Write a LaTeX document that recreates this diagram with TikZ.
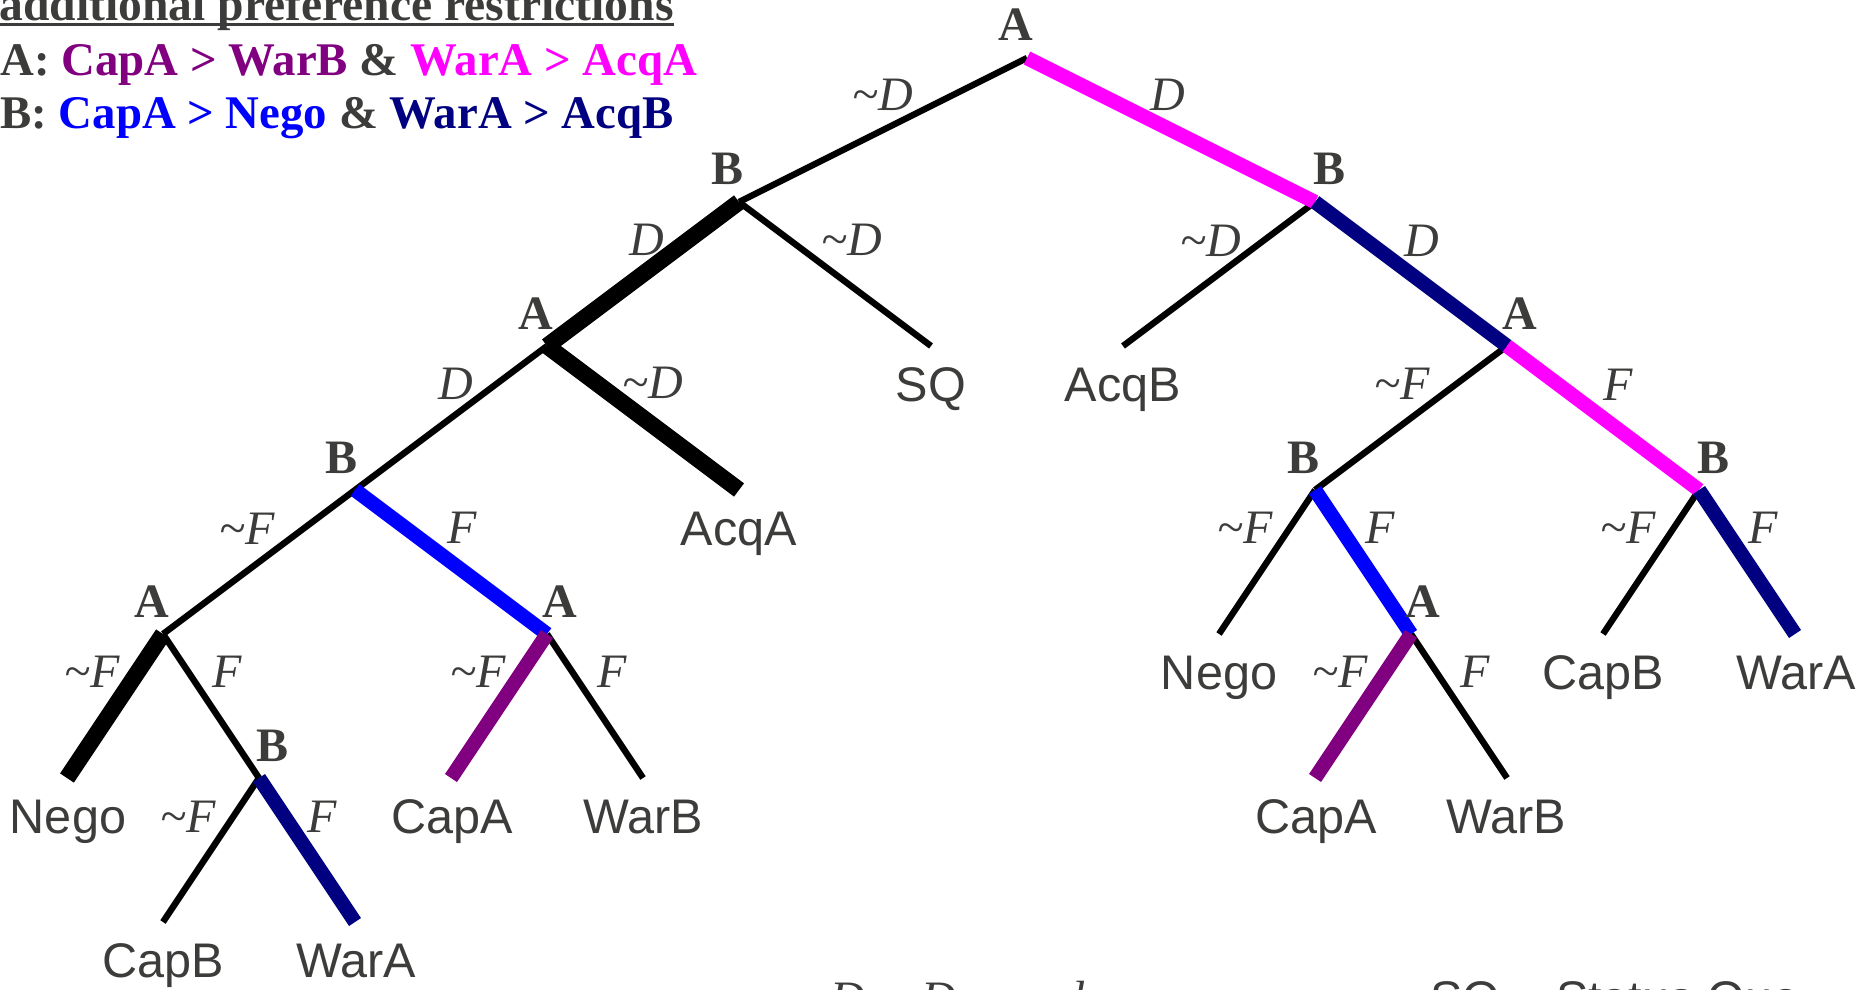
\documentclass[tikz,border=0pt]{standalone}
\usepackage{fontspec}
\setmainfont{Liberation Serif}
\setsansfont{Liberation Sans}
\definecolor{txt}{HTML}{3C3C3A}
\definecolor{cmag}{HTML}{FF00FF}
\definecolor{cpur}{HTML}{800080}
\definecolor{cblu}{HTML}{0000FF}
\definecolor{cnav}{HTML}{000080}
\begin{document}
\begin{tikzpicture}[x=0.5pt,y=-0.5pt,
  eThin/.style={line width=3.2pt, black, line cap=butt},
  eThick/.style={line width=8.3pt, black, line cap=butt},
  eMag/.style={line width=7.2pt, cmag, line cap=butt},
  ePur/.style={line width=7.2pt, cpur, line cap=butt},
  eBlu/.style={line width=7.2pt, cblu, line cap=butt},
  eNav/.style={line width=7.2pt, cnav, line cap=butt},
  plyr/.style={text=txt, font=\fontsize{24pt}{28pt}\selectfont\bfseries, inner sep=0pt, anchor=base},
  elbl/.style={text=txt, font=\fontsize{24pt}{28pt}\selectfont\itshape, inner sep=0pt, anchor=center},
  leaf/.style={text=txt, font=\fontsize{24.3pt}{28pt}\selectfont\sffamily, inner sep=0pt, anchor=base},
  lgd/.style={text=txt, font=\fontsize{23.4pt}{28pt}\selectfont\bfseries, inner sep=0pt, anchor=base west},
]
\useasboundingbox (0,0) rectangle (1871,989);
\clip (0,0) rectangle (1871,989);

% ---------- legend ----------
\node[lgd, font=\fontsize{23.8pt}{28pt}\selectfont\bfseries] (title) at (-1,21) {additional preference restrictions};
\draw[txt, line width=1.3pt] ([yshift=-1.9pt]title.base west) -- ([yshift=-1.9pt]title.base east);
\node[lgd] (pa) at (0,76) {A: \textcolor{cpur}{CapA > WarB} \& \textcolor{cmag}{WarA > AcqA}};
\node[lgd] (pb) at (0,129) {B: \textcolor{cblu}{CapA > Nego} \& \textcolor{cnav}{WarA > AcqB}};

% ---------- junctions ----------
\coordinate (r)    at (1027,58);
\coordinate (bL)   at (739,202);
\coordinate (bR)   at (1315,202);
\coordinate (aL)   at (547,346);
\coordinate (eSQ)  at (931,346);
\coordinate (eAcqB) at (1123,346);
\coordinate (aR)   at (1507,346);
\coordinate (bLL)  at (355,490);
\coordinate (eAcqA) at (739,490);
\coordinate (bRL)  at (1315,490);
\coordinate (bRR)  at (1699,490);
\coordinate (aLL)  at (163,634);
\coordinate (aLR)  at (547,634);
\coordinate (eNegoR) at (1219,634);
\coordinate (aRM)  at (1411,634);
\coordinate (eCapBR) at (1603,634);
\coordinate (eWarAR) at (1795,634);
\coordinate (eNegoL) at (67,778);
\coordinate (bLLL) at (259,778);
\coordinate (eCapAL) at (451,778);
\coordinate (eWarBL) at (643,778);
\coordinate (eCapAR) at (1315,778);
\coordinate (eWarBR) at (1507,778);
\coordinate (eCapBL) at (163,922);
\coordinate (eWarAL) at (355,922);

% ---------- thin edges ----------
\draw[eThin] (r) -- (bL);
\draw[eThin] (bL) -- (eSQ);
\draw[eThin] (bR) -- (eAcqB);
\draw[eThin] (aL) -- (bLL);
\draw[eThin] (aR) -- (bRL);
\draw[eThin] (bLL) -- (aLL);
\draw[eThin] (bRL) -- (eNegoR);
\draw[eThin] (bRR) -- (eCapBR);
\draw[eThin] (aLL) -- (bLLL);
\draw[eThin] (aLR) -- (eWarBL);
\draw[eThin] (aRM) -- (eWarBR);
\draw[eThin] (bLLL) -- (eCapBL);

% ---------- highlighted edges ----------
\draw[eThick] (bL) -- (aL);
\draw[eThick] (aL) -- (eAcqA);
\draw[eThick] (aLL) -- (eNegoL);
\draw[eMag] (r) -- (bR);
\draw[eNav] (bR) -- (aR);
\draw[eMag] (aR) -- (bRR);
\draw[eBlu] (bLL) -- (aLR);
\draw[eBlu] (bRL) -- (aRM);
\draw[eNav] (bRR) -- (eWarAR);
\draw[ePur] (aLR) -- (eCapAL);
\draw[ePur] (aRM) -- (eCapAR);
\draw[eNav] (bLLL) -- (eWarAL);

% ---------- player labels ----------
\node[plyr] (pr)    at (1016,41) {A};
\node[plyr] (pbL)   at (727,185) {B};
\node[plyr] (pbR)   at (1329,185) {B};
\node[plyr] (paL)   at (536,329) {A};
\node[plyr] (paR)   at (1520,329) {A};
\node[plyr] (pbLL)  at (342,473) {B};
\node[plyr] (pbRL)  at (1303,473) {B};
\node[plyr] (pbRR)  at (1713,473) {B};
\node[plyr] (paLL)  at (152,617) {A};
\node[plyr] (paLR)  at (560,617) {A};
\node[plyr] (paRM)  at (1423,617) {A};
\node[plyr] (pbLLL) at (273,761) {B};

% ---------- edge labels ----------
\node[elbl] (l1) at (883,95) {\textasciitilde D};
\node[elbl] (l2) at (1168,95) {D};
\node[elbl] (l3) at (647,240) {D};
\node[elbl] (l4) at (852,240) {\textasciitilde D};
\node[elbl] (l5) at (1211,241) {\textasciitilde D};
\node[elbl] (l6) at (1422,241) {D};
\node[elbl] (l7) at (456,384) {D};
\node[elbl] (l8) at (653,383) {\textasciitilde D};
\node[elbl] (l9) at (1402,384) {\textasciitilde F};
\node[elbl] (l10) at (1618,385) {F};
\node[elbl] (l11) at (247,529) {\textasciitilde F};
\node[elbl] (l12) at (462,528) {F};
\node[elbl] (l13) at (1245,528) {\textasciitilde F};
\node[elbl] (l14) at (1380,528) {F};
\node[elbl] (l15) at (1628,528) {\textasciitilde F};
\node[elbl] (l16) at (1763,528) {F};
\node[elbl] (l17) at (92,672) {\textasciitilde F};
\node[elbl] (l18) at (227,672) {F};
\node[elbl] (l19) at (478,672) {\textasciitilde F};
\node[elbl] (l20) at (612,672) {F};
\node[elbl] (l21) at (1340,672) {\textasciitilde F};
\node[elbl] (l22) at (1475,672) {F};
\node[elbl] (l23) at (188,817) {\textasciitilde F};
\node[elbl] (l24) at (322,817) {F};

% ---------- leaf labels ----------
\node[leaf] (tSQ)    at (931,401) {SQ};
\node[leaf] (tAcqB)  at (1123,401) {AcqB};
\node[leaf] (tAcqA)  at (739,545) {AcqA};
\node[leaf] (tNegoR) at (1219,689) {Nego};
\node[leaf] (tCapBR) at (1603,689) {CapB};
\node[leaf] (tWarAR) at (1796,689) {WarA};
\node[leaf] (tNegoL) at (68,833) {Nego};
\node[leaf] (tCapAL) at (452,833) {CapA};
\node[leaf] (tWarBL) at (643,833) {WarB};
\node[leaf] (tCapAR) at (1316,833) {CapA};
\node[leaf] (tWarBR) at (1506,833) {WarB};
\node[leaf] (tCapBL) at (163,977) {CapB};
\node[leaf] (tWarAL) at (356,977) {WarA};

% ---------- footnotes ----------
\node[text=txt, font=\fontsize{24pt}{28pt}\selectfont\itshape, inner sep=0pt, anchor=base west] (fD) at (830,1014) {D = Demand};
\node[text=txt, font=\fontsize{24.3pt}{28pt}\selectfont\sffamily, inner sep=0pt, anchor=base west] (fSQ) at (1430,1015) {SQ = Status Quo};
\end{tikzpicture}
\end{document}
